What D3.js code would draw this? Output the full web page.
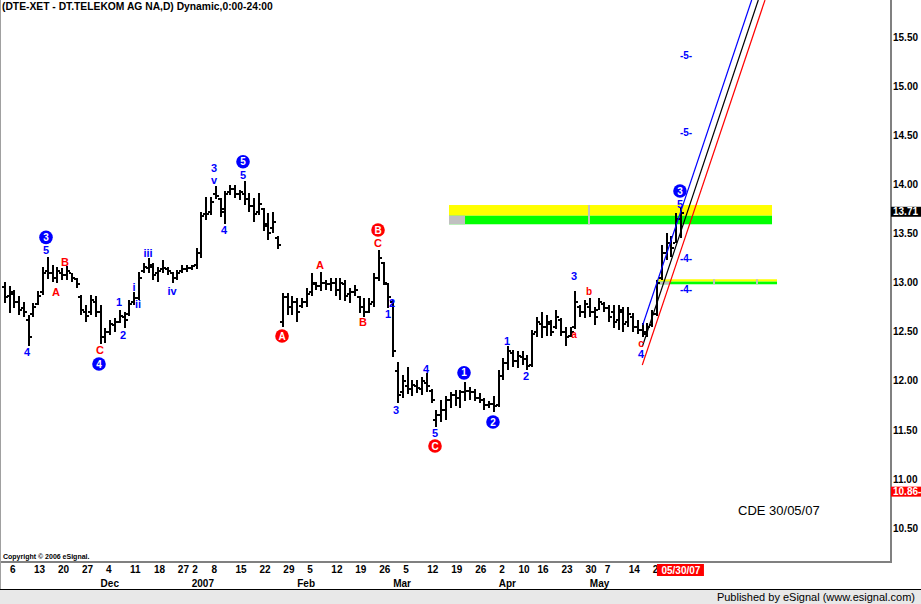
<!DOCTYPE html>
<html><head><meta charset="utf-8">
<script src="https://cdn.jsdelivr.net/npm/d3@7"></script>
<style>body{margin:0;background:#fff;overflow:hidden}svg{display:block;font-family:Arial,"Liberation Sans",sans-serif}</style>
</head><body><svg id="c" width="921" height="604"></svg>
<script>
// ---------- data ----------
const startDate = "2006-11-03", endDate = "2007-05-30";
const holidays = ["2006-12-25","2006-12-26","2007-01-01","2007-04-06","2007-04-09","2007-05-01","2007-05-28"];
const opens = [12.95,12.86,12.88,12.80,12.74,12.62,12.68,12.78,12.90,13.12,13.10,13.05,13.10,13.08,13.10,13.04,12.85,12.70,12.70,12.80,12.70,12.45,12.50,12.57,12.60,12.65,12.68,12.80,12.84,13.12,13.15,13.16,13.10,13.14,13.14,13.10,13.05,13.12,13.14,13.15,13.18,13.30,13.70,13.72,13.90,13.85,13.72,13.92,13.95,13.90,13.90,13.85,13.78,13.72,13.75,13.60,13.55,13.45,12.60,12.85,12.75,12.80,12.76,12.80,12.90,12.98,12.96,13.00,12.98,13.00,12.92,12.98,12.88,12.90,12.85,12.75,12.70,12.80,13.05,13.20,12.98,12.80,12.10,11.88,11.95,11.92,11.95,11.92,11.98,11.90,11.60,11.65,11.70,11.80,11.85,11.82,11.88,11.90,11.88,11.82,11.80,11.75,11.76,11.75,12.05,12.18,12.28,12.20,12.24,12.22,12.16,12.50,12.58,12.55,12.58,12.55,12.62,12.50,12.46,12.55,12.75,12.70,12.75,12.70,12.72,12.78,12.74,12.70,12.62,12.70,12.60,12.65,12.55,12.52,12.50,12.57,12.68,13.05,13.30,13.40,13.40,13.65];
const highs = [13.01,12.96,12.92,12.86,12.80,12.67,12.79,12.91,13.16,13.26,13.18,13.16,13.15,13.17,13.10,13.05,12.87,12.77,12.87,12.86,12.77,12.54,12.62,12.64,12.72,12.70,12.82,12.90,13.11,13.20,13.25,13.20,13.16,13.23,13.16,13.11,13.13,13.18,13.18,13.18,13.35,13.72,13.87,13.87,13.98,13.86,13.93,13.99,13.99,13.94,14.03,13.91,13.86,13.91,13.76,13.71,13.72,13.47,12.89,12.89,12.86,12.84,12.84,12.94,13.10,13.01,13.11,13.03,13.05,13.05,13.05,13.03,12.94,12.97,12.86,12.84,12.84,13.10,13.33,13.21,13.00,12.82,12.19,12.06,12.14,12.01,12.01,12.04,12.08,11.92,11.70,11.80,11.84,11.89,11.91,11.91,11.99,11.94,11.92,11.87,11.82,11.79,11.84,12.11,12.23,12.35,12.31,12.30,12.30,12.26,12.52,12.65,12.70,12.67,12.62,12.72,12.64,12.55,12.55,12.91,12.77,12.82,12.84,12.75,12.84,12.80,12.77,12.77,12.77,12.75,12.75,12.69,12.62,12.59,12.59,12.72,13.03,13.38,13.50,13.47,13.71,13.77];
const lows = [12.79,12.69,12.74,12.67,12.65,12.35,12.65,12.77,12.87,13.04,13.01,12.99,13.03,13.03,13.01,12.94,12.67,12.60,12.67,12.65,12.37,12.38,12.47,12.50,12.59,12.54,12.66,12.77,12.82,13.10,13.10,13.03,13.01,13.10,13.08,12.99,13.03,13.10,13.11,13.13,13.14,13.25,13.64,13.69,13.85,13.67,13.60,13.89,13.86,13.84,13.79,13.72,13.62,13.69,13.52,13.43,13.50,13.34,12.55,12.67,12.67,12.60,12.74,12.75,12.86,12.92,12.91,12.92,12.91,12.86,12.82,12.81,12.79,12.86,12.69,12.65,12.69,12.75,13.02,12.97,12.74,12.24,11.77,11.82,11.86,11.84,11.87,11.85,11.89,11.77,11.53,11.58,11.60,11.72,11.74,11.72,11.79,11.80,11.79,11.77,11.70,11.72,11.68,11.73,12.01,12.11,12.14,12.13,12.16,12.11,12.14,12.45,12.43,12.46,12.46,12.53,12.46,12.35,12.45,12.53,12.65,12.64,12.65,12.57,12.72,12.70,12.60,12.54,12.52,12.50,12.55,12.50,12.48,12.44,12.45,12.55,12.66,13.03,13.23,13.26,13.40,13.45];
const closes = [12.85,12.90,12.80,12.72,12.70,12.45,12.75,12.86,13.10,13.10,13.05,13.12,13.08,13.12,13.05,12.98,12.72,12.66,12.82,12.70,12.45,12.50,12.58,12.60,12.66,12.62,12.78,12.84,13.05,13.16,13.18,13.08,13.12,13.15,13.12,13.05,13.10,13.14,13.15,13.17,13.30,13.68,13.70,13.82,13.88,13.75,13.90,13.95,13.90,13.92,13.85,13.78,13.70,13.80,13.58,13.50,13.62,13.38,12.85,12.75,12.80,12.70,12.80,12.88,13.00,12.96,13.00,12.98,13.00,12.92,13.00,12.86,12.90,12.92,12.75,12.70,12.78,13.05,13.25,13.00,12.85,12.30,11.85,12.00,11.92,11.96,11.93,12.00,11.95,11.80,11.65,11.70,11.80,11.85,11.82,11.88,11.90,11.88,11.82,11.80,11.75,11.76,11.74,12.05,12.18,12.30,12.20,12.25,12.22,12.15,12.48,12.60,12.55,12.60,12.50,12.65,12.50,12.45,12.50,12.80,12.70,12.78,12.70,12.65,12.80,12.74,12.65,12.60,12.72,12.58,12.68,12.55,12.52,12.48,12.55,12.68,13.00,13.30,13.40,13.35,13.65,13.71];

const yTicks = [10.5,11.0,11.5,12.0,12.5,13.0,13.5,14.0,14.5,15.0,15.5];
const dayTicks = ["2006-11-06","2006-11-13","2006-11-20","2006-11-27","2006-12-04","2006-12-11","2006-12-18","2006-12-27","2007-01-02","2007-01-08","2007-01-15","2007-01-22","2007-01-29","2007-02-05","2007-02-12","2007-02-19","2007-02-26","2007-03-05","2007-03-12","2007-03-19","2007-03-26","2007-04-02","2007-04-10","2007-04-16","2007-04-23","2007-04-30","2007-05-07","2007-05-14","2007-05-21"];
const monthTicks = [["2006-12-01","Dec"],["2007-01-02","2007"],["2007-02-01","Feb"],["2007-03-01","Mar"],["2007-04-02","Apr"],["2007-05-02","May"]];

const BLUE = "#0000ff", RED = "#ff0000";
// wave labels: position as (bar index, price)
const waveLabels = [
 {k:4.65,p:12.29,t:"4",c:BLUE},{k:8.61,p:13.46,t:"3",c:BLUE,o:1},{k:8.61,p:13.33,t:"5",c:BLUE},
 {k:10.70,p:12.90,t:"A",c:RED},{k:12.57,p:13.21,t:"B",c:RED},{k:19.87,p:12.31,t:"C",c:RED},
 {k:19.66,p:12.17,t:"4",c:BLUE,o:1},{k:23.83,p:12.80,t:"1",c:BLUE},{k:24.66,p:12.47,t:"2",c:BLUE},
 {k:26.96,p:12.95,t:"i",c:BLUE},{k:27.79,p:12.78,t:"ii",c:BLUE},{k:29.88,p:13.30,t:"iii",c:BLUE},
 {k:34.88,p:12.91,t:"iv",c:BLUE},{k:43.64,p:14.17,t:"3",c:BLUE},{k:43.64,p:14.04,t:"v",c:BLUE},
 {k:49.69,p:14.23,t:"5",c:BLUE,o:1},{k:49.69,p:14.09,t:"5",c:BLUE},{k:45.73,p:13.535,t:"4",c:BLUE},
 {k:57.82,p:12.455,t:"A",c:RED,o:1},{k:65.74,p:13.18,t:"A",c:RED},{k:74.71,p:12.60,t:"B",c:RED},
 {k:77.84,p:13.535,t:"B",c:RED,o:1},{k:77.84,p:13.40,t:"C",c:RED},{k:80.76,p:12.79,t:"2",c:BLUE},
 {k:79.93,p:12.68,t:"1",c:BLUE},{k:81.60,p:11.70,t:"3",c:BLUE},{k:87.85,p:12.12,t:"4",c:BLUE},
 {k:89.72,p:11.47,t:"5",c:BLUE},{k:89.72,p:11.335,t:"C",c:RED,o:1},{k:95.77,p:12.08,t:"1",c:BLUE,o:1},
 {k:101.81,p:11.58,t:"2",c:BLUE,o:1},{k:104.73,p:12.405,t:"1",c:BLUE},{k:108.69,p:12.05,t:"2",c:BLUE},
 {k:118.7,p:13.07,t:"3",c:BLUE},{k:121.83,p:12.91,t:"b",c:RED,s:1},{k:118.7,p:12.476,t:"a",c:RED,s:1},
 {k:132.67,p:12.384,t:"c",c:RED,s:1},{k:132.67,p:12.27,t:"4",c:BLUE},{k:140.8,p:13.932,t:"3",c:BLUE,o:1},
 {k:140.8,p:13.80,t:"5",c:BLUE},
 {k:142.06,p:15.317,t:"-5-",c:BLUE,s:1},{k:142.06,p:14.533,t:"-5-",c:BLUE,s:1},
 {k:142.06,p:13.25,t:"-4-",c:BLUE,s:1},{k:142.06,p:12.934,t:"-4-",c:BLUE,s:1}
];
// channel lines (bar index, price)
const channelLines = [
 {k1:133.03,p1:12.567,k2:155.75,p2:15.877,c:BLUE},
 {k1:132.94,p1:12.346,k2:157.13,p2:15.877,c:"#000000"},
 {k1:132.94,p1:12.160,k2:158.53,p2:15.877,c:RED}
];
// target zones
const zoneBands = [
 {k1:92.64,k2:159.99,top:13.789,mid:13.680,bot:13.593,grayTo:95.98,marks:[121.83]},
 {k1:135.95,k2:161.03,top:13.033,mid:13.009,bot:12.982,grayTo:138.7,marks:[147.9,156.86]}
];
const lastPrice = 13.71, markerPrice = 10.86;

// ---------- build ----------
const pd = d3.utcParse("%Y-%m-%d"), fd = d3.utcFormat("%Y-%m-%d");
const hol = new Set(holidays);
const dates = [];
for (let d = pd(startDate); d <= pd(endDate); d = d3.utcDay.offset(d, 1)) {
  const wd = d.getUTCDay();
  if (wd === 0 || wd === 6 || hol.has(fd(d))) continue;
  dates.push(fd(d));
}
const idx = new Map(dates.map((d,i)=>[d,i]));
const bars = dates.map((d,i)=>({d, o:opens[i], h:highs[i], l:lows[i], c:closes[i], k:i}));

const W=921, H=604, plotR=891, plotB=562;
const x = d3.scaleLinear().domain([0,141]).range([4.704, 4.704+4.796*141]);
const y = d3.scaleLinear().domain([10.5,15.5]).range([528,37]);

const svg = d3.select("#c");
svg.append("rect").attr("width",W).attr("height",H).attr("fill","#fff");

const defs = svg.append("defs");
defs.append("clipPath").attr("id","pc").append("rect").attr("x",0).attr("y",0).attr("width",plotR).attr("height",plotB);
defs.append("clipPath").attr("id","xc").append("rect").attr("x",0).attr("y",0).attr("width",x(dates.length-1)-24).attr("height",40);
const plot = svg.append("g").attr("clip-path","url(#pc)");

// zones
zoneBands.forEach(z=>{
  plot.append("rect").attr("x",x(z.k1)).attr("width",x(z.k2)-x(z.k1)).attr("y",y(z.top)).attr("height",y(z.mid)-y(z.top)).attr("fill","#ffff00");
  plot.append("rect").attr("x",x(z.k1)).attr("width",x(z.k2)-x(z.k1)).attr("y",y(z.mid)).attr("height",y(z.bot)-y(z.mid)).attr("fill","#00ff00");
  plot.append("rect").attr("x",x(z.k1)).attr("width",x(z.grayTo)-x(z.k1)).attr("y",y(z.mid)).attr("height",y(z.bot)-y(z.mid)).attr("fill","#c0c0c0");
  z.marks.forEach(m=>plot.append("rect").attr("x",x(m)-1).attr("width",2).attr("y",y(z.top)).attr("height",y(z.bot)-y(z.top)).attr("fill","#c0c0c0"));
});

// bars
const bg = plot.append("g").attr("fill","#000").attr("shape-rendering","crispEdges");
bars.forEach(b=>{
  const cx = Math.round(x(b.k));
  const yh = Math.round(y(b.h)), yl = Math.round(y(b.l));
  bg.append("rect").attr("x",cx-1).attr("y",yh).attr("width",2).attr("height",Math.max(1,yl-yh));
  bg.append("rect").attr("x",cx-3).attr("y",Math.round(y(b.o))-1).attr("width",2).attr("height",2);
  bg.append("rect").attr("x",cx+1).attr("y",Math.round(y(b.c))-1).attr("width",2).attr("height",2);
});

// channel lines
channelLines.forEach(l=>{
  plot.append("line").attr("x1",x(l.k1)).attr("y1",y(l.p1)).attr("x2",x(l.k2)).attr("y2",y(l.p2))
    .attr("stroke",l.c).attr("stroke-width",1.2);
});

// wave labels
const lg = plot.append("g").attr("font-weight","bold").attr("text-anchor","middle");
waveLabels.forEach(w=>{
  const cx = x(w.k), cy = y(w.p);
  if (w.o) {
    lg.append("circle").attr("cx",cx).attr("cy",cy).attr("r",6.8).attr("fill",w.c);
    lg.append("text").attr("x",cx).attr("y",cy).attr("dy","0.36em").attr("fill","#fff").attr("font-size",10).text(w.t);
  } else {
    lg.append("text").attr("x",cx).attr("y",cy).attr("dy","0.36em").attr("fill",w.c).attr("font-size",w.s?10:11).text(w.t);
  }
});

// title etc.
svg.append("text").attr("x",2).attr("y",10).attr("font-size",10.3).attr("font-weight","bold").attr("fill","#000")
  .text("(DTE-XET - DT.TELEKOM AG NA,D) Dynamic,0:00-24:00");
svg.append("text").attr("x",3).attr("y",559).attr("font-size",7).attr("font-weight","bold").attr("fill","#000")
  .text("Copyright \u00A9 2006 eSignal.");
svg.append("text").attr("x",738).attr("y",515).attr("font-size",13).attr("fill","#000").text("CDE 30/05/07");

// frame
svg.append("line").attr("x1",plotR).attr("x2",plotR).attr("y1",0).attr("y2",plotB+1).attr("stroke","#808080").attr("stroke-width",2);
svg.append("line").attr("x1",0).attr("x2",plotR).attr("y1",plotB).attr("y2",plotB).attr("stroke","#808080").attr("stroke-width",2);
svg.append("line").attr("x1",0.5).attr("x2",0.5).attr("y1",0).attr("y2",589).attr("stroke","#a0a0a0");

// y axis
const ya = svg.append("g").attr("transform",`translate(${plotR+1},0)`)
  .call(d3.axisRight(y).tickValues(yTicks).tickFormat(d3.format(".2f")).tickSize(0).tickPadding(1));
ya.select(".domain").remove();
ya.selectAll("text").attr("font-size",10).attr("font-weight","bold").attr("font-family","Arial,'Liberation Sans',sans-serif").attr("fill","#000");

// price boxes
function priceBox(p, fill){
  const cy = y(p)-1;
  svg.append("rect").attr("x",plotR).attr("y",cy-5).attr("width",W-plotR).attr("height",10).attr("fill",fill);
  svg.append("text").attr("x",plotR+2).attr("y",cy).attr("dy","0.36em").attr("font-size",10).attr("font-weight","bold").attr("fill","#fff").text(d3.format(".2f")(p)+(fill===RED?"-":""));
}
priceBox(lastPrice,"#000");
priceBox(markerPrice,RED);

// x axis
const xWrap = svg.append("g").attr("transform",`translate(0,${plotB})`);
const xa = xWrap.append("g").attr("clip-path","url(#xc)")
  .call(d3.axisBottom(x).tickValues(dayTicks.map(d=>idx.get(d))).tickFormat(k=>String(+dates[k].slice(8))).tickSize(0).tickPadding(4));
xa.select(".domain").remove();
xa.selectAll("text").attr("text-anchor","start").attr("font-size",10).attr("font-weight","bold").attr("font-family","Arial,'Liberation Sans',sans-serif").attr("fill","#000");
const mg = svg.append("g");
monthTicks.forEach(([d,t])=>{
  mg.append("text").attr("x",x(idx.get(d))).attr("y",587).attr("font-size",10).attr("font-weight","bold").attr("fill","#000").text(t);
});
// current date marker
const lastK = dates.length-1;
svg.append("rect").attr("x",x(lastK)-24).attr("y",564).attr("width",47).attr("height",12).attr("fill",RED);
svg.append("text").attr("x",x(lastK)).attr("y",574).attr("text-anchor","middle").attr("font-size",10).attr("font-weight","bold").attr("fill","#fff")
  .text(d3.utcFormat("%m/%d/%y")(pd(dates[lastK])));

// footer
svg.append("line").attr("x1",0).attr("x2",W).attr("y1",589.5).attr("y2",589.5).attr("stroke","#000");
svg.append("rect").attr("x",0).attr("y",590).attr("width",W).attr("height",14).attr("fill","#e8e8e8");
svg.append("text").attr("x",915).attr("y",601).attr("text-anchor","end").attr("font-size",11).attr("fill","#000").text("Published by eSignal (www.esignal.com)");
</script></body></html>
